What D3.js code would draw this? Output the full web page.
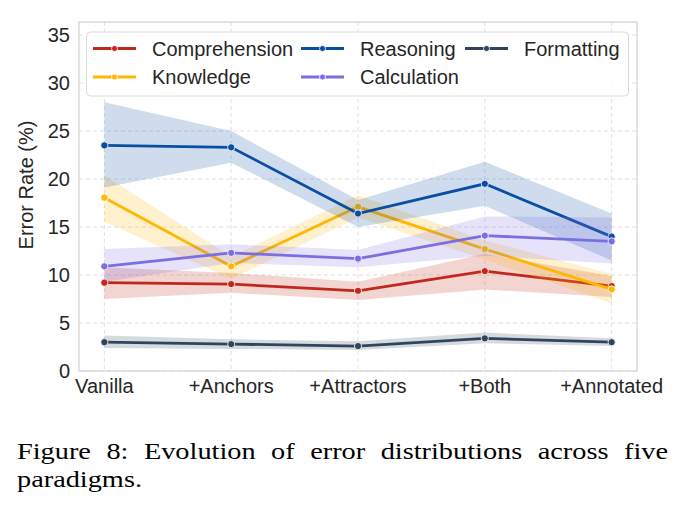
<!DOCTYPE html>
<html>
<head>
<meta charset="utf-8">
<script src="https://cdn.jsdelivr.net/npm/d3@7"></script>
<style>
  body { margin: 0; background: #fff; }
  svg { display: block; }
</style>
</head>
<body>
<div id="chart"></div>
<script>
// Categories along the x axis
const paradigms = ["Vanilla", "+Anchors", "+Attractors", "+Both", "+Annotated"];

// Series means and confidence bands (error rate, %)
const comprehension    = [9.2, 9.05, 8.35, 10.4, 8.85];
const comprehensionLow = [7.5, 8.15, 7.4, 8.5, 7.7];
const comprehensionHigh = [10.8, 10.2, 9.3, 12.2, 9.9];

const knowledge     = [18.05, 10.9, 17.1, 12.7, 8.5];
const knowledgeLow  = [15.55, 9.6, 16.0, 11.6, 7.05];
const knowledgeHigh = [20.4, 11.9, 18.3, 13.6, 10.1];

const reasoning     = [23.5, 23.3, 16.4, 19.5, 14.0];
const reasoningLow  = [19.1, 21.7, 15.0, 17.2, 11.5];
const reasoningHigh = [28.0, 25.0, 17.8, 21.8, 16.4];

const calculation     = [10.9, 12.3, 11.7, 14.1, 13.5];
const calculationLow  = [9.3, 11.25, 10.8, 12.0, 11.2];
const calculationHigh = [12.7, 13.2, 12.6, 16.1, 16.0];

const formatting     = [3.0, 2.8, 2.6, 3.4, 3.0];
const formattingLow  = [2.4, 2.3, 2.2, 2.9, 2.6];
const formattingHigh = [3.7, 3.3, 3.1, 4.0, 3.4];

const yTicks = [0, 5, 10, 15, 20, 25, 30, 35];

const series = [
    { name: "Comprehension", color: "#c0281b", mean: comprehension, low: comprehensionLow, high: comprehensionHigh },
    { name: "Knowledge", color: "#ffb703", mean: knowledge, low: knowledgeLow, high: knowledgeHigh },
    { name: "Reasoning", color: "#0a4ea3", mean: reasoning, low: reasoningLow, high: reasoningHigh },
    { name: "Calculation", color: "#7b6ee0", mean: calculation, low: calculationLow, high: calculationHigh },
    { name: "Formatting", color: "#2f455e", mean: formatting, low: formattingLow, high: formattingHigh }
];

const W = 686, H = 519;
const margin = { top: 22, right: 49, bottom: 148, left: 79 },
      width = W - margin.left - margin.right,
      height = H - margin.top - margin.bottom;

const svg = d3.select("#chart")
    .append("svg")
    .attr("width", W)
    .attr("height", H);

const g = svg.append("g")
    .attr("transform", `translate(${margin.left},${margin.top})`);

const xScale = d3.scalePoint()
    .domain(paradigms)
    .range([0, width])
    .padding(0.2);

const yScale = d3.scaleLinear()
    .domain([0, 36.35])
    .range([height, 0]);

const font = "'Liberation Sans', Arial, sans-serif";

// Grid lines (dashed, light)
g.append("g")
    .selectAll("line")
    .data(yTicks)
    .join("line")
    .attr("x1", 0).attr("x2", width)
    .attr("y1", d => yScale(d)).attr("y2", d => yScale(d))
    .attr("stroke", "#e0e0e0")
    .attr("stroke-dasharray", "4,3");

g.append("g")
    .selectAll("line")
    .data(paradigms)
    .join("line")
    .attr("x1", d => xScale(d)).attr("x2", d => xScale(d))
    .attr("y1", 0).attr("y2", height)
    .attr("stroke", "#e0e0e0")
    .attr("stroke-dasharray", "4,3");

// Bands and lines
const area = d3.area()
    .x((d, i) => xScale(paradigms[i]))
    .y0(d => yScale(d[0]))
    .y1(d => yScale(d[1]));

const line = d3.line()
    .x((d, i) => xScale(paradigms[i]))
    .y(d => yScale(d));

series.forEach(s => {
    g.append("path")
        .datum(s.low.map((v, i) => [v, s.high[i]]))
        .attr("fill", s.color)
        .attr("fill-opacity", 0.2)
        .attr("d", area);

    g.append("path")
        .datum(s.mean)
        .attr("fill", "none")
        .attr("stroke", s.color)
        .attr("stroke-width", 2.8)
        .attr("d", line);

    g.append("g")
        .selectAll("circle")
        .data(s.mean)
        .join("circle")
        .attr("cx", (d, i) => xScale(paradigms[i]))
        .attr("cy", d => yScale(d))
        .attr("r", 3.6)
        .attr("fill", s.color)
        .attr("stroke", "#fff")
        .attr("stroke-width", 0.8);
});

// Spines
g.append("rect")
    .attr("width", width)
    .attr("height", height)
    .attr("fill", "none")
    .attr("stroke", "#d0d0d0")
    .attr("stroke-width", 1.2);

// Y tick labels
g.append("g")
    .selectAll("text")
    .data(yTicks)
    .join("text")
    .attr("x", -9)
    .attr("y", d => yScale(d))
    .attr("dy", "0.35em")
    .attr("text-anchor", "end")
    .style("font-family", font)
    .style("font-size", "20px")
    .attr("fill", "#262626")
    .text(d => d);

// X tick labels
g.append("g")
    .selectAll("text")
    .data(paradigms)
    .join("text")
    .attr("x", d => xScale(d))
    .attr("y", height + 22)
    .attr("text-anchor", "middle")
    .style("font-family", font)
    .style("font-size", "20px")
    .attr("fill", "#262626")
    .text(d => d);

// Y axis label
svg.append("text")
    .attr("transform", `translate(33,185) rotate(-90)`)
    .attr("text-anchor", "middle")
    .style("font-family", font)
    .style("font-size", "20px")
    .attr("fill", "#262626")
    .text("Error Rate (%)");

// Legend
const legend = svg.append("g");
legend.append("rect")
    .attr("x", 86.5).attr("y", 32)
    .attr("width", 542).attr("height", 64)
    .attr("rx", 4)
    .attr("fill", "#fff")
    .attr("fill-opacity", 0.85)
    .attr("stroke", "#dcdcdc");

const colX = [93, 301, 465];
const rowY = [48.5, 77];
series.forEach((s, i) => {
    const col = Math.floor(i / 2), row = i % 2;
    const x0 = colX[col], y0 = rowY[row];
    legend.append("line")
        .attr("x1", x0).attr("x2", x0 + 43)
        .attr("y1", y0).attr("y2", y0)
        .attr("stroke", s.color)
        .attr("stroke-width", 2.8);
    legend.append("circle")
        .attr("cx", x0 + 21.5).attr("cy", y0)
        .attr("r", 3)
        .attr("fill", s.color)
        .attr("stroke", "#fff")
        .attr("stroke-width", 0.8);
    legend.append("text")
        .attr("x", x0 + 59)
        .attr("y", y0)
        .attr("dy", "0.35em")
        .style("font-family", font)
        .style("font-size", "20px")
        .attr("fill", "#262626")
        .text(s.name);
});

// Caption (justified first line, slightly wide as in the scan)
const captionFont = "'Liberation Serif', 'Times New Roman', serif";
const stretch = 1.18;
const line1 = "Figure 8: Evolution of error distributions across five".split(" ");
const cap = svg.append("g")
    .attr("transform", `scale(${stretch},1)`)
    .style("font-family", captionFont)
    .style("font-size", "24px")
    .attr("fill", "#000");
const words = cap.selectAll("text.w")
    .data(line1)
    .join("text")
    .attr("class", "w")
    .attr("y", 459.5)
    .text(d => d);
const widths = [];
words.each(function() { widths.push(this.getComputedTextLength()); });
const capLeft = 17 / stretch, capRight = 668 / stretch;
const gap = (capRight - capLeft - d3.sum(widths)) / (line1.length - 1);
let cx = capLeft;
words.attr("x", (d, i) => { const x = cx; cx += widths[i] + gap; return x; });

cap.append("text")
    .attr("x", capLeft)
    .attr("y", 487.5)
    .text("paradigms.");
</script>
</body>
</html>
